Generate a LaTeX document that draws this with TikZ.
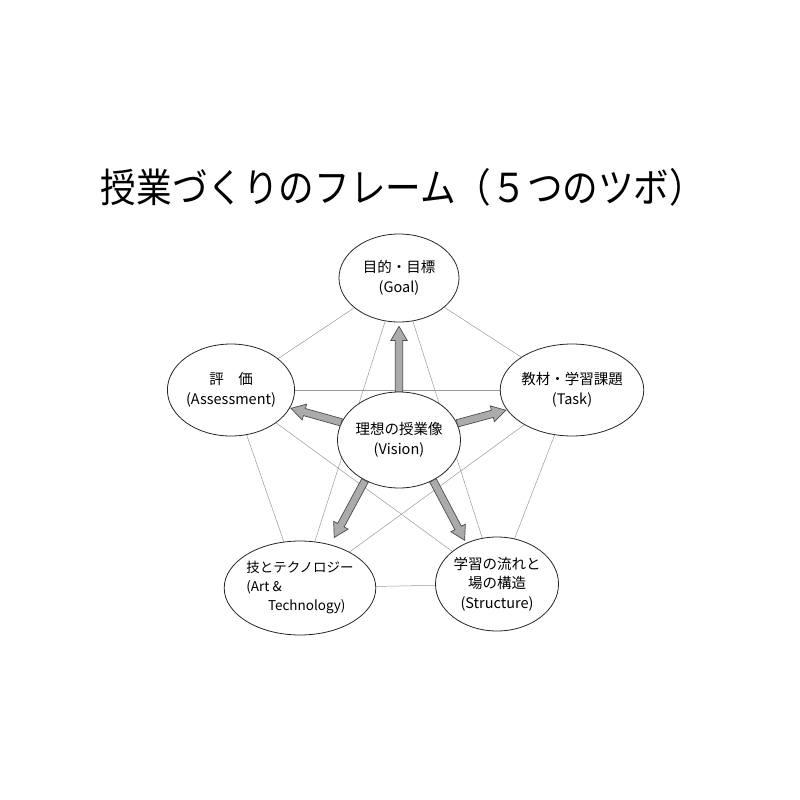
\documentclass[tikz,border=0pt]{standalone}
\usepackage{fontspec}
\setmainfont{Noto Sans CJK JP}
\usetikzlibrary{shapes.geometric,calc,backgrounds}
\newcommand\myblockarrow[2]{%
  \filldraw[blk] let \p1=(#1), \p2=(#2), \n1={atan2(\y2-\y1,\x2-\x1)} in
    ($(\p1)+(\n1+90:3.7pt)$) --
    ($(\p2)+(\n1+180:14pt)+(\n1+90:3.7pt)$) --
    ($(\p2)+(\n1+180:14pt)+(\n1+90:8.2pt)$) --
    (\p2) --
    ($(\p2)+(\n1+180:14pt)+(\n1-90:8.2pt)$) --
    ($(\p2)+(\n1+180:14pt)+(\n1-90:3.7pt)$) --
    ($(\p1)+(\n1-90:3.7pt)$) -- cycle;}
\begin{document}
\begin{tikzpicture}[x=1pt,y=-1pt,
  oval/.style={ellipse, draw=black!85, line width=0.8pt, fill=white, inner sep=0pt,
    align=center, font=\fontsize{14.5}{19.5}\selectfont},
  web/.style={draw=black!40, line width=0.5pt},
  blk/.style={fill=black!33, draw=black!70, line width=0.7pt, line join=miter}]
\useasboundingbox (0,0) rectangle (800,800);
\node[font=\fontsize{35.6}{40}\selectfont, inner sep=0pt] (title) at (403,187)
  {\scalebox{1}[1.12]{授業づくりのフレーム（５つのツボ）}};
\node[oval, minimum width=120pt, minimum height=88pt] (g) at (399,278) {目的・目標\\(Goal)};
\node[oval, minimum width=120pt, minimum height=92pt] (a) at (231,390) {評　価\\(Assessment)};
\node[oval, minimum width=122pt, minimum height=92pt] (t) at (572,390) {教材・学習課題\\(Task)};
\node[oval, minimum width=118pt, minimum height=96pt] (v) at (399,440) {理想の授業像\\(Vision)};
\node[oval, minimum width=120pt, minimum height=94pt, align=left,
  font=\fontsize{13.5}{19}\selectfont] (r) at (300,588)
  {技とテクノロジー\\(Art \&\\\hspace*{1.6em}Technology)};
\node[oval, minimum width=122pt, minimum height=94pt] (s) at (497,584)
  {学習の流れと\\場の構造\\(Structure)};
\begin{pgfonlayer}{background}
\foreach \p/\q in {g/a,g/t,g/r,g/s,a/t,a/r,a/s,t/r,t/s,r/s}
  \draw[web] (\p.center) -- (\q.center);
\end{pgfonlayer}
\coordinate (ga) at (v.90);
\coordinate (gb) at ($(g.270)!4pt!(v.90)$);
\coordinate (aa) at (v.163.5);
\coordinate (ab) at ($(a.-17.5)!1pt!(v.163.5)$);
\coordinate (ta) at (v.16.5);
\coordinate (tb) at ($(t.197.5)!1pt!(v.16.5)$);
\coordinate (ra) at (v.230);
\coordinate (rb) at ($(r.55)!8pt!(v.230)$);
\coordinate (sa) at (v.-50);
\coordinate (sb) at ($(s.127)!3pt!(v.-50)$);
\myblockarrow{ga}{gb}
\myblockarrow{aa}{ab}
\myblockarrow{ta}{tb}
\myblockarrow{ra}{rb}
\myblockarrow{sa}{sb}
\end{tikzpicture}
\end{document}
